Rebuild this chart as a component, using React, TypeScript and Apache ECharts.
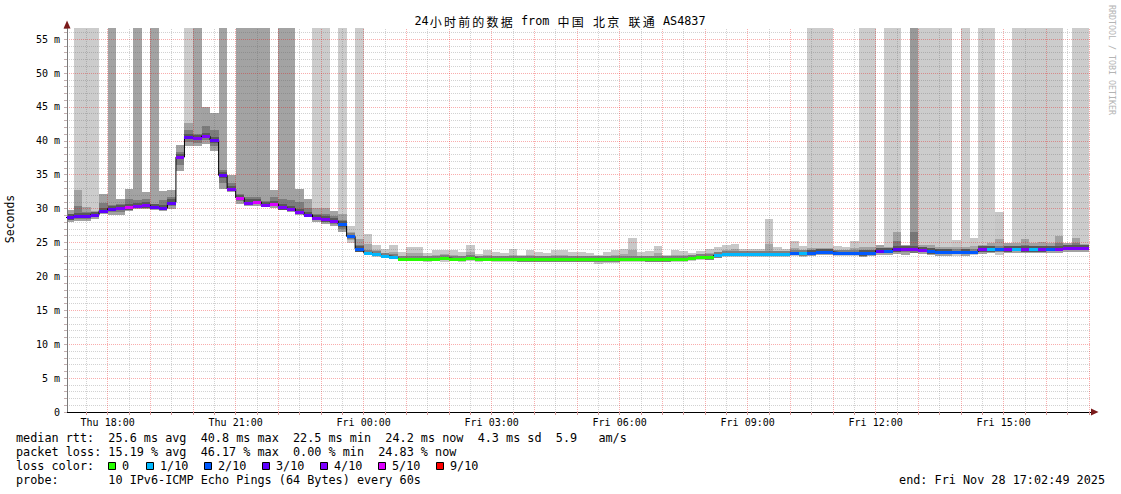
import React, { useEffect, useRef } from 'react';
import * as echarts from 'echarts';

// ---- time frame (hours counted from Thu 00:00) ----
const STEP_START_HOUR = 17; // first 12-min step starts Thu 17:00
const STEP_HOURS = 0.2; // 12 minutes per step
const X_MIN = 17 + 2 / 60 + 49 / 3600; // Thu 17:02:49
const X_MAX = X_MIN + 24; // Fri 17:02:49
const Y_MAX = 56.6;

// ---- data (ms) ----
const median = [
  28.7, 28.9, 28.9, 29.1, 29.7, 30.0, 30.1, 30.2, 30.4, 30.5,
  30.3, 30.1, 30.9, 37.6, 40.6, 40.4, 40.7, 40.1, 34.9, 32.9,
  31.6, 30.9, 31.0, 30.5, 30.7, 30.2, 30.0, 29.5, 29.1, 28.6,
  28.4, 28.2, 27.7, 25.9, 24.0, 23.5, 23.3, 23.0, 22.9, 22.6,
  22.6, 22.6, 22.6, 22.6, 22.7, 22.6, 22.6, 22.7, 22.6, 22.6,
  22.6, 22.6, 22.6, 22.5, 22.5, 22.5, 22.5, 22.5, 22.5, 22.5,
  22.5, 22.5, 22.5, 22.5, 22.5, 22.6, 22.6, 22.6, 22.5, 22.5,
  22.5, 22.6, 22.6, 22.7, 22.9, 22.8, 23.1, 23.3, 23.3, 23.3,
  23.3, 23.3, 23.3, 23.3, 23.3, 23.5, 23.4, 23.5, 23.6, 23.6,
  23.5, 23.5, 23.5, 23.4, 23.5, 23.8, 23.8, 24.0, 24.1, 24.1,
  23.9, 23.7, 23.6, 23.6, 23.6, 23.6, 23.6, 24.0, 24.0, 24.0,
  24.0, 24.1, 24.0, 24.0, 24.0, 24.1, 24.1, 24.2, 24.2, 24.2,
];

// index into lossColors
const lossLevel = [
  3, 3, 3, 3, 3, 3, 4, 5, 4, 4,
  3, 3, 3, 4, 3, 4, 4, 3, 3, 4,
  5, 4, 5, 4, 5, 4, 4, 4, 3, 4,
  4, 4, 2, 2, 2, 1, 1, 1, 1, 0,
  0, 0, 0, 0, 0, 0, 0, 0, 0, 0,
  0, 0, 0, 0, 0, 0, 0, 0, 0, 0,
  0, 0, 0, 0, 0, 0, 0, 0, 0, 0,
  0, 0, 0, 0, 0, 0, 1, 1, 1, 1,
  1, 1, 1, 1, 1, 2, 1, 2, 2, 2,
  2, 2, 2, 2, 2, 3, 2, 3, 4, 4,
  4, 2, 2, 2, 2, 2, 2, 4, 1, 2,
  4, 1, 4, 1, 4, 2, 4, 4, 4, 4,
];

const smokeLo = [
  28.0, 28.2, 28.2, 28.5, 29.2, 29.1, 29.1, 29.7, 29.9, 30.0,
  29.8, 29.7, 30.0, 35.5, 39.3, 39.2, 39.6, 38.5, 32.9, 32.4,
  30.7, 30.4, 30.4, 30.3, 30.1, 29.8, 29.5, 29.0, 28.7, 28.0,
  27.7, 27.4, 26.5, 24.9, 23.6, 23.3, 22.8, 22.7, 22.6, 22.3,
  22.3, 22.3, 22.2, 22.3, 22.2, 22.3, 22.2, 22.3, 22.2, 22.3,
  22.2, 22.2, 22.2, 22.1, 22.1, 22.2, 22.2, 22.1, 22.2, 22.1,
  22.1, 22.1, 21.9, 22.0, 22.0, 22.2, 22.2, 22.2, 22.1, 22.2,
  22.1, 22.1, 22.2, 22.3, 22.4, 22.4, 22.7, 22.8, 22.8, 22.9,
  22.9, 22.9, 22.9, 22.9, 22.9, 23.0, 22.9, 23.0, 23.1, 23.1,
  23.0, 23.0, 23.0, 22.9, 23.0, 23.2, 23.2, 23.3, 23.1, 23.5,
  23.3, 23.1, 23.0, 23.0, 23.0, 23.0, 23.1, 23.3, 23.4, 23.2,
  23.4, 23.5, 23.4, 23.5, 23.4, 23.5, 23.5, 23.6, 23.6, 23.6,
];

const smokeHi = [
  29.8, 32.8, 30.3, 29.6, 32.1, 31.2, 31.4, 32.9, 32.3, 32.5,
  31.2, 32.6, 32.7, 39.4, 42.7, 41.9, 45.0, 44.1, 36.7, 35.0,
  32.9, 32.6, 32.6, 31.9, 32.8, 32.9, 32.9, 32.9, 31.4, 30.1,
  30.1, 29.7, 29.2, 27.4, 25.5, 26.3, 24.6, 24.1, 24.6, 23.6,
  24.4, 24.4, 23.5, 23.9, 23.9, 23.9, 23.6, 24.6, 23.3, 23.9,
  23.6, 23.5, 24.0, 23.1, 23.9, 23.6, 23.5, 23.9, 23.9, 23.6,
  23.6, 23.5, 23.1, 23.6, 23.9, 24.1, 25.6, 23.6, 23.7, 24.5,
  23.1, 23.9, 23.8, 23.4, 23.8, 24.1, 24.3, 24.6, 24.8, 24.1,
  24.0, 24.0, 28.5, 24.4, 24.1, 25.2, 24.5, 24.2, 24.2, 24.2,
  24.5, 24.3, 25.2, 24.3, 24.3, 24.6, 24.4, 26.6, 24.7, 26.6,
  24.6, 24.6, 24.4, 24.4, 25.3, 24.4, 25.6, 24.6, 25.0, 29.5,
  24.9, 25.0, 25.5, 25.0, 25.1, 25.0, 25.9, 24.9, 25.7, 24.8,
];

// lost-ping bar reaching the top: 0 none, 1 light, 2 medium, 3 dark
const lostBar = [
  0, 1, 1, 1, 0, 2, 0, 0, 2, 0,
  2, 0, 0, 0, 1, 2, 0, 0, 2, 0,
  2, 2, 2, 2, 0, 2, 2, 0, 0, 1,
  1, 0, 1, 0, 1, 0, 0, 0, 0, 0,
  0, 0, 0, 0, 0, 0, 0, 0, 0, 0,
  0, 0, 0, 0, 0, 0, 0, 0, 0, 0,
  0, 0, 0, 0, 0, 0, 0, 0, 0, 0,
  0, 0, 0, 0, 0, 0, 0, 0, 0, 0,
  0, 0, 0, 0, 0, 0, 0, 1, 1, 1,
  0, 0, 0, 1, 1, 0, 1, 1, 0, 3,
  1, 1, 1, 1, 0, 1, 0, 1, 1, 0,
  0, 1, 1, 1, 1, 1, 1, 0, 1, 1,
];

const lossColors = ['#26ff00', '#00b8ff', '#0059ff', '#5e00ff', '#7e00ff', '#dd00ff', '#ff0000'];
const lossLabels = ['0', '1/10', '2/10', '3/10', '4/10', '5/10', '9/10'];
const timeLabelHours = [18, 21, 24, 27, 30, 33, 36, 39];
const yLabelValues = [0, 5, 10, 15, 20, 25, 30, 35, 40, 45, 50, 55];

const titleText = '24小时前的数据 from 中国 北京 联通 AS4837';
const legendRows = [
  'median rtt:  25.6 ms avg  40.8 ms max  22.5 ms min  24.2 ms now  4.3 ms sd  5.9   am/s',
  'packet loss: 15.19 % avg  46.17 % max  0.00 % min  24.83 % now',
  'loss color:',
  'probe:       10 IPv6-ICMP Echo Pings (64 Bytes) every 60s',
];
const endText = 'end: Fri Nov 28 17:02:49 2025';

const MONO = '"DejaVu Sans Mono", "Noto Sans CJK SC", monospace';
const CJK = '"Noto Sans CJK SC", "DejaVu Sans Mono", sans-serif';
const nb = (s: string) => s.replace(/ /g, '\u00A0');

const RED_GRID = 'rgba(235,0,0,0.32)';
const GRAY_GRID = 'rgba(90,90,90,0.27)';

// wrap CJK characters in fixed-width (two-cell) rich tokens, latin runs in mono tokens
const toRich = (s: string) => {
  let out = '';
  let run = '';
  for (const ch of s) {
    if (/[\u3000-\u9fff]/.test(ch)) {
      if (run) { out += `{a|${nb(run)}}`; run = ''; }
      out += `{c|${ch}}`;
    } else {
      run += ch;
    }
  }
  if (run) out += `{a|${nb(run)}}`;
  return out;
};

export default function App() {
  const ref = useRef<HTMLDivElement>(null);

  useEffect(() => {
    if (!ref.current) return;
    const chart = echarts.init(ref.current, null, { renderer: 'svg' });

    const stepStart = (k: number) => STEP_START_HOUR + k * STEP_HOURS;
    const smokeData = median.map((m, k) => [
      stepStart(k), stepStart(k + 1), smokeLo[k], smokeHi[k], m, lostBar[k], lossLevel[k],
    ]);
    const barData = median.map((m, k) => [stepStart(k), stepStart(k + 1), m, lossLevel[k]]);
    const lineData = median.map((m, k) => [stepStart(k), m]);
    lineData.push([stepStart(median.length), median[median.length - 1]]);

    const halfHours: number[] = [];
    for (let h = 17.5; h <= 41; h += 0.5) halfHours.push(h);

    const tallColors = ['', '#cccccc', '#a3a3a3', '#999999'];

    const rect = (x0: number, y0: number, x1: number, y1: number, fill: string) => ({
      type: 'rect',
      shape: { x: x0, y: Math.min(y0, y1), width: x1 - x0, height: Math.abs(y1 - y0) },
      style: { fill },
    });

    const renderSmoke = (params: any, api: any) => {
      const t0 = api.value(0);
      const t1 = api.value(1);
      const lo = api.value(2);
      const hi = api.value(3);
      const med = api.value(4);
      const tall = api.value(5);
      const loss = api.value(6);
      const cs = params.coordSys;
      const x0 = Math.max(Math.round(api.coord([t0, 0])[0]), cs.x);
      const x1 = Math.round(api.coord([t1, 0])[0]);
      const yOf = (v: number) => Math.round(api.coord([t0, v])[1]);
      const children: any[] = [];
      if (tall > 0) children.push(rect(x0, yOf(Y_MAX), x1, yOf(lo), tallColors[tall]));
      const dark = tall > 0 || loss >= 3;
      const outer = tall === 3 ? '#777777' : dark ? '#a2a2a2' : '#c8c8c8';
      const inner = dark ? '#7c7c7c' : '#a6a6a6';
      const core = dark ? '#585858' : '#808080';
      children.push(rect(x0, yOf(hi), x1, yOf(lo), outer));
      const iLo = med - Math.min(1.2, 0.55 * (med - lo));
      const iHi = med + Math.min(1.5, 0.45 * (hi - med));
      children.push(rect(x0, yOf(iHi), x1, yOf(iLo), inner));
      const cLo = Math.max(lo, med - 0.35);
      const cHi = Math.min(hi, med + 0.45);
      children.push(rect(x0, yOf(cHi), x1, yOf(cLo), core));
      return { type: 'group', children };
    };

    const renderBar = (params: any, api: any) => {
      const cs = params.coordSys;
      const p0 = api.coord([api.value(0), api.value(2)]);
      const p1 = api.coord([api.value(1), api.value(2)]);
      const x0 = Math.max(Math.round(p0[0]), cs.x);
      const x1 = Math.round(p1[0]);
      const y = Math.round(p0[1]);
      return {
        type: 'rect',
        shape: { x: x0, y: y - 1, width: x1 - x0, height: 3 },
        style: { fill: lossColors[api.value(3)] },
      };
    };

    const txt = (x: number, y: number, text: string, size: number, extra: any = {}) => ({
      type: 'text',
      x,
      y,
      silent: true,
      z: 10,
      ...extra,
      style: {
        text: nb(text),
        font: `${size}px ${MONO}`,
        fill: '#000000',
        textAlign: 'left',
        textVerticalAlign: 'middle',
        ...(extra.style || {}),
      },
    });

    const legendY = [438, 452, 466, 480];
    const boxLefts = [108.5, 146.5, 204.5, 262.5, 320.5, 378.5, 436.5];
    const boxLabelX = [122, 160, 218, 276, 334, 392, 450];

    const graphicElements: any[] = [
      {
        type: 'text',
        x: 560,
        y: 21,
        silent: true,
        z: 10,
        style: {
          text: toRich(titleText),
          fill: '#000000',
          textAlign: 'center',
          textVerticalAlign: 'middle',
          rich: {
            a: { font: `11.8px ${MONO}`, fill: '#000000' },
            c: { font: `12px ${CJK}`, fill: '#000000', width: 14.2, align: 'center' },
          },
        },
      },
      txt(10, 219, 'Seconds', 11.5, { rotation: Math.PI / 2, style: { textAlign: 'center' } }),
      txt(1112, 5, 'RRDTOOL / TOBI OETIKER', 8.3, {
        rotation: -Math.PI / 2,
        style: { fill: '#b4b4b4' },
      }),
      txt(1105, legendY[3], endText, 11.8, { style: { textAlign: 'right' } }),
      {
        type: 'polygon',
        z: 10,
        silent: true,
        shape: { points: [[63.5, 28.5], [67, 20.5], [70.5, 28.5]] },
        style: { fill: '#7a1a1a' },
      },
      {
        type: 'polygon',
        z: 10,
        silent: true,
        shape: { points: [[1091, 408.5], [1098.5, 412], [1091, 415.5]] },
        style: { fill: '#7a1a1a' },
      },
    ];
    legendRows.forEach((row, i) => graphicElements.push(txt(16, legendY[i], row, 11.8)));
    lossColors.forEach((c, i) => {
      graphicElements.push({
        type: 'rect',
        z: 10,
        silent: true,
        shape: { x: boxLefts[i], y: legendY[2] - 3.5, width: 7, height: 7 },
        style: { fill: c, stroke: '#000000', lineWidth: 1 },
      });
      graphicElements.push(txt(boxLabelX[i], legendY[2], lossLabels[i], 11.8));
    });

    const option: any = {
      animation: false,
      backgroundColor: '#ffffff',
      grid: { left: 67, right: 30, top: 28.3, bottom: 82, containLabel: false },
      xAxis: {
        type: 'value',
        min: X_MIN,
        max: X_MAX,
        z: 2,
        axisLine: { show: true, lineStyle: { color: '#000000', width: 1 } },
        axisTick: {
          show: true,
          customValues: halfHours,
          length: 3,
          lineStyle: { color: '#d09a9a' },
        },
        axisLabel: {
          customValues: timeLabelHours,
          formatter: (v: number) => {
            const h = Math.round(v);
            const day = h < 24 ? 'Thu' : 'Fri';
            return `${day} ${String(h % 24).padStart(2, '0')}:00`;
          },
          fontFamily: MONO,
          fontSize: 10,
          color: '#000000',
          margin: 5,
        },
        splitLine: { show: false },
      },
      yAxis: {
        type: 'value',
        min: 0,
        max: Y_MAX,
        interval: 1,
        z: 2,
        axisLine: { show: true, lineStyle: { color: '#7a7a7a', width: 1 } },
        axisTick: { show: true, interval: 0, length: 3, lineStyle: { color: '#c4b0b0' } },
        axisLabel: {
          customValues: yLabelValues,
          formatter: (v: number) => (v === 0 ? '0' : `${v} m`),
          fontFamily: MONO,
          fontSize: 10,
          color: '#000000',
          margin: 7,
        },
        splitLine: {
          show: true,
          showMaxLine: false,
          lineStyle: {
            type: 'dotted',
            width: 1,
            color: [RED_GRID, GRAY_GRID, GRAY_GRID, GRAY_GRID, GRAY_GRID],
          },
        },
      },
      series: [
        {
          type: 'custom',
          name: 'smoke',
          z: 1,
          silent: true,
          renderItem: renderSmoke,
          encode: { x: [0, 1], y: [2, 3, 4] },
          data: smokeData,
        },
        {
          type: 'line',
          name: 'median',
          z: 3,
          silent: true,
          step: 'end',
          symbol: 'none',
          lineStyle: { color: '#000000', width: 1 },
          data: lineData,
          markLine: {
            z: 2,
            silent: true,
            symbol: ['none', 'none'],
            label: { show: false },
            lineStyle: { type: 'dotted', width: 1 },
            data: halfHours.map((h) => ({
              xAxis: h,
              lineStyle: { color: Number.isInteger(h) ? RED_GRID : GRAY_GRID, type: 'dotted', width: 1 },
            })),
          },
        },
        {
          type: 'custom',
          name: 'loss',
          z: 4,
          silent: true,
          renderItem: renderBar,
          encode: { x: [0, 1], y: 2 },
          data: barData,
        },
      ],
      graphic: { elements: graphicElements },
    };

    chart.setOption(option);
    return () => chart.dispose();
  }, []);

  return (
    <div
      ref={ref}
      style={{ position: 'fixed', left: 0, top: 0, width: 1121, height: 494, background: '#ffffff' }}
    />
  );
}
